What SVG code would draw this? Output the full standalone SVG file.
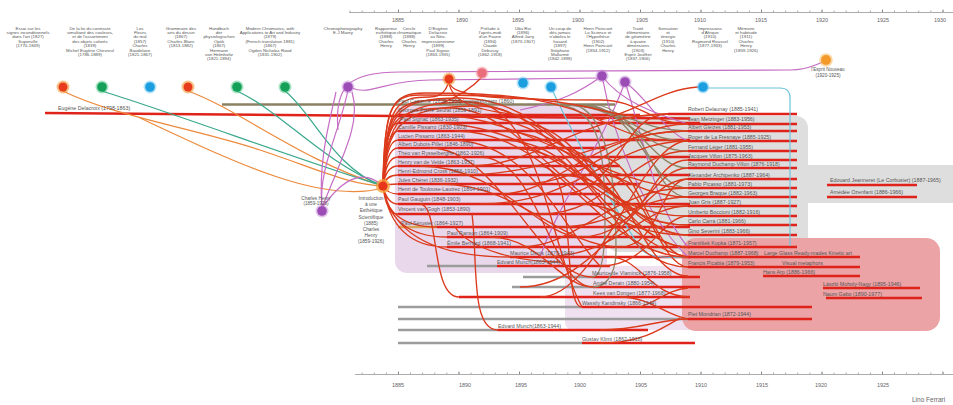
<svg xmlns="http://www.w3.org/2000/svg" width="953" height="405" viewBox="0 0 953 405">
<defs>
<style>
text{font-family:"Liberation Sans",Arial,sans-serif;fill:#555}
.col{font-size:4.4px;text-anchor:middle}
.lbl{font-size:5.3px}
.yr{font-size:5.5px;text-anchor:middle;fill:#666}
.ln{stroke:#e0231a;stroke-width:2.4;fill:none}
.gl{stroke:#9c9c9c;stroke-width:2.4;fill:none}
.br{stroke:#8c8062;stroke-width:2.4;fill:none}
.c{fill:none;stroke:#dc3a1c;stroke-width:1.35}
.o{fill:none;stroke:#ec8a3c;stroke-width:1.2}
.g{fill:none;stroke:#3aa88c;stroke-width:1.2}
.p{fill:none;stroke:#c56cc4;stroke-width:1.2}
.b{fill:none;stroke:#6cc4dc;stroke-width:1.2}
.ol{fill:none;stroke:#8e8466;stroke-width:1.3}
</style>
<pattern id="tick" x="398" y="0" width="12.1" height="405" patternUnits="userSpaceOnUse"><rect x="0" y="0" width="0.7" height="405" fill="#888"/></pattern>
<pattern id="tickM" x="398" y="0" width="60.5" height="405" patternUnits="userSpaceOnUse"><rect x="0" y="0" width="0.8" height="405" fill="#777"/></pattern>
</defs>
<rect width="953" height="405" fill="#fff"/>

<!-- background groupings -->
<g id="zones">
<rect x="395" y="104" width="212" height="169" rx="12" fill="#e9d8ec"/>
<rect x="565" y="266" width="135" height="64" rx="8" fill="#efe1ef"/>
<rect x="607" y="116" width="201" height="136" rx="12" fill="#dedede"/>
<rect x="800" y="165" width="153" height="38" fill="#dedede"/>
<rect x="682" y="238" width="258" height="93" rx="14" fill="#eba3a5"/>
</g>

<!-- time axes -->
<g id="axis-top">
<rect x="349" y="12" width="604" height="0.7" fill="#888"/>
<rect x="349" y="10.5" width="604" height="1.5" fill="url(#tick)"/>
<rect x="349" y="9.5" width="604" height="2.5" fill="url(#tickM)"/>
<text class="yr" x="398" y="22">1885</text><text class="yr" x="462" y="22">1890</text><text class="yr" x="518" y="22">1895</text><text class="yr" x="578" y="22">1900</text><text class="yr" x="642" y="22">1905</text><text class="yr" x="700" y="22">1910</text><text class="yr" x="761" y="22">1915</text><text class="yr" x="822" y="22">1920</text><text class="yr" x="883" y="22">1925</text><text class="yr" x="940" y="22">1930</text>
</g>
<g id="axis-bottom">
<rect x="355" y="374" width="598" height="0.7" fill="#888"/>
<rect x="355" y="372.5" width="598" height="1.5" fill="url(#tick)"/>
<rect x="355" y="371.5" width="598" height="2.5" fill="url(#tickM)"/>
<text class="yr" x="398" y="387">1885</text><text class="yr" x="465" y="387">1890</text><text class="yr" x="521" y="387">1895</text><text class="yr" x="580" y="387">1900</text><text class="yr" x="641" y="387">1905</text><text class="yr" x="701" y="387">1910</text><text class="yr" x="762" y="387">1915</text><text class="yr" x="821" y="387">1920</text><text class="yr" x="883" y="387">1925</text>
<text x="912" y="402" style="font-size:6.5px;fill:#666">Lino Ferrari</text>
</g>

<!-- source works along the top -->
<g id="works">
<text class="col" y="29.5"><tspan x="28">Essai sur les</tspan><tspan x="28" dy="4.4">signes inconditionnels</tspan><tspan x="28" dy="4.4">dans l'art (1827)</tspan><tspan x="28" dy="4.4">Superville</tspan><tspan x="28" dy="4.4">(1770-1849)</tspan></text>
<text class="col" y="29.5"><tspan x="90">De la loi du contraste</tspan><tspan x="90" dy="4.4">simultané des couleurs,</tspan><tspan x="90" dy="4.4">et de l'assortiment</tspan><tspan x="90" dy="4.4">des objets colorés</tspan><tspan x="90" dy="4.4">(1839)</tspan><tspan x="90" dy="4.4">Michel Eugène Chevreul</tspan><tspan x="90" dy="4.4">(1786-1889)</tspan></text>
<text class="col" y="29.5"><tspan x="140">Les</tspan><tspan x="140" dy="4.4">Fleurs</tspan><tspan x="140" dy="4.4">du mal</tspan><tspan x="140" dy="4.4">(1857)</tspan><tspan x="140" dy="4.4">Charles</tspan><tspan x="140" dy="4.4">Baudelaire</tspan><tspan x="140" dy="4.4">(1821-1867)</tspan></text>
<text class="col" y="29.5"><tspan x="181">Grammaire des</tspan><tspan x="181" dy="4.4">arts du dessin</tspan><tspan x="181" dy="4.4">(1867)</tspan><tspan x="181" dy="4.4">Charles Blanc</tspan><tspan x="181" dy="4.4">(1813-1882)</tspan></text>
<text class="col" y="29.5"><tspan x="219">Handbuch</tspan><tspan x="219" dy="4.4">der</tspan><tspan x="219" dy="4.4">physiologischen</tspan><tspan x="219" dy="4.4">Optik</tspan><tspan x="219" dy="4.4">(1867)</tspan><tspan x="219" dy="4.4">Hermann</tspan><tspan x="219" dy="4.4">von Helmholtz</tspan><tspan x="219" dy="4.4">(1821-1894)</tspan></text>
<text class="col" y="29.5"><tspan x="270">Modern Chromatics, with</tspan><tspan x="270" dy="4.4">Applications to Art and Industry</tspan><tspan x="270" dy="4.4">(1879)</tspan><tspan x="270" dy="4.4">(French translation 1881)</tspan><tspan x="270" dy="4.4">(1867)</tspan><tspan x="270" dy="4.4">Ogden Nicholas Rood</tspan><tspan x="270" dy="4.4">(1831-1902)</tspan></text>
<text class="col" y="29.5"><tspan x="343">Chronophotography</tspan><tspan x="343" dy="4.4">E-J Marey</tspan></text>
<text class="col" y="29.5"><tspan x="386">Rapporteur</tspan><tspan x="386" dy="4.4">esthétique</tspan><tspan x="386" dy="4.4">(1888)</tspan><tspan x="386" dy="4.4">Charles</tspan><tspan x="386" dy="4.4">Henry</tspan></text>
<text class="col" y="29.5"><tspan x="409">Cercle</tspan><tspan x="409" dy="4.4">chromatique</tspan><tspan x="409" dy="4.4">(1888)</tspan><tspan x="409" dy="4.4">Charles</tspan><tspan x="409" dy="4.4">Henry</tspan></text>
<text class="col" y="29.5"><tspan x="438">D'Eugène</tspan><tspan x="438" dy="4.4">Delacroix</tspan><tspan x="438" dy="4.4">au Néo-</tspan><tspan x="438" dy="4.4">impressionnisme</tspan><tspan x="438" dy="4.4">(1899)</tspan><tspan x="438" dy="4.4">Paul Signac</tspan><tspan x="438" dy="4.4">(1863-1935)</tspan></text>
<text class="col" y="29.5"><tspan x="490">Prélude à</tspan><tspan x="490" dy="4.4">l'après-midi</tspan><tspan x="490" dy="4.4">d'un Faune</tspan><tspan x="490" dy="4.4">(1894)</tspan><tspan x="490" dy="4.4">Claude</tspan><tspan x="490" dy="4.4">Debussy</tspan><tspan x="490" dy="4.4">(1862-1918)</tspan></text>
<text class="col" y="29.5"><tspan x="523">Ubu Roi</tspan><tspan x="523" dy="4.4">(1896)</tspan><tspan x="523" dy="4.4">Alfred Jarry</tspan><tspan x="523" dy="4.4">(1873-1907)</tspan></text>
<text class="col" y="29.5"><tspan x="560">Un coup de</tspan><tspan x="560" dy="4.4">dés jamais</tspan><tspan x="560" dy="4.4">n'abolira le</tspan><tspan x="560" dy="4.4">hasard</tspan><tspan x="560" dy="4.4">(1897)</tspan><tspan x="560" dy="4.4">Stéphane</tspan><tspan x="560" dy="4.4">Mallarmé</tspan><tspan x="560" dy="4.4">(1842-1898)</tspan></text>
<text class="col" y="29.5"><tspan x="598">Henri Poincaré</tspan><tspan x="598" dy="4.4">La Science et</tspan><tspan x="598" dy="4.4">l'Hypothèse</tspan><tspan x="598" dy="4.4">(1902)</tspan><tspan x="598" dy="4.4">Henri Poincaré</tspan><tspan x="598" dy="4.4">(1854-1912)</tspan></text>
<text class="col" y="29.5"><tspan x="638">Traité</tspan><tspan x="638" dy="4.4">élémentaire</tspan><tspan x="638" dy="4.4">de géométrie</tspan><tspan x="638" dy="4.4">à quatre</tspan><tspan x="638" dy="4.4">dimensions</tspan><tspan x="638" dy="4.4">(1903)</tspan><tspan x="638" dy="4.4">Esprit Jouffret</tspan><tspan x="638" dy="4.4">(1837-1906)</tspan></text>
<text class="col" y="29.5"><tspan x="668">Sensation</tspan><tspan x="668" dy="4.4">et</tspan><tspan x="668" dy="4.4">énergie</tspan><tspan x="668" dy="4.4">(1910)</tspan><tspan x="668" dy="4.4">Charles</tspan><tspan x="668" dy="4.4">Henry</tspan></text>
<text class="col" y="29.5"><tspan x="710">Impressions</tspan><tspan x="710" dy="4.4">d'Afrique</tspan><tspan x="710" dy="4.4">(1910)</tspan><tspan x="710" dy="4.4">Raymond Roussel</tspan><tspan x="710" dy="4.4">(1877-1933)</tspan></text>
<text class="col" y="29.5"><tspan x="746">Mémoire</tspan><tspan x="746" dy="4.4">et habitude</tspan><tspan x="746" dy="4.4">(1911)</tspan><tspan x="746" dy="4.4">Charles</tspan><tspan x="746" dy="4.4">Henry</tspan><tspan x="746" dy="4.4">(1859-1926)</tspan></text>
</g>

<!-- lifelines -->
<g id="lifelines">
<path class="br" d="M222,104.5H615"/>
<path class="ln" d="M45,113L690,118.5"/>
<path class="ln" d="M398,123H700M398,131H600M398,140H690M398,148H605M398,157H690M398,166H620M398,175H690M398,184H640M398,194H600M398,204H690M398,214H600M437,227H690M447,237H660M447,247H690M510,257H690M497,266H610"/>
<path class="ln" d="M398,115H640"/>
<path stroke="#d8a455" stroke-width="2.4" d="M398,227H437"/>
<path class="gl" d="M427,266H497M523,277H592M512,287H593M398,307H582M398,319H688M398,330H498M398,343H582"/>
<path class="ln" d="M592,277H700M593,287H700M459,297H690M582,307H812M688,319H812M498,330H648M582,343H695"/>
<path class="ln" d="M668,114H797M688,124H797M688,131H797M688,141H797M688,151H797M688,160H797M688,168H797M688,179H797M688,188H797M688,197H797M688,206H797M688,216H797M688,225H797M688,235H797M688,247H797M688,257H860M688,267H860M763,276H860M823,288H920M826,298H922"/>
<path class="ln" d="M827,185H917M827,197H917"/>
</g>

<!-- connectors -->
<g id="connectors">
<path class="o" d="M63,91C110,115 200,130 260,150S350,185 383,186"/>
<path class="o" d="M188,91C240,110 300,160 383,186"/>
<path class="o" d="M140,118C230,160 320,205 383,188"/>
<path class="g" d="M102,91C170,112 300,160 383,186"/>
<path class="g" d="M237,91C282,112 320,160 383,186"/>
<path class="g" d="M285,91C312,112 335,170 383,186"/>
<path class="p" d="M348,90C340,130 318,170 322,207"/>
<path class="p" d="M322,208C318,160 330,120 336,92"/>
<path class="p" d="M322,208C340,160 362,125 352,92"/>
<path class="p" d="M322,208C345,175 365,170 383,186"/>
<path class="p" d="M338,130C334,85 350,72 400,72L790,70C810,70 818,63 826,61"/>
<path class="p" d="M352,88C370,96 385,80 430,80L600,78"/>
<path class="p" d="M602,76C620,100 650,112 688,124"/>
<path class="p" d="M602,76C612,130 640,210 688,257"/>
<path class="p" d="M625,82C650,100 662,130 688,141"/>
<path class="p" d="M625,82C640,125 655,210 688,247"/>
<path class="p" d="M602,76C580,92 560,102 520,110"/>
<path class="p" d="M625,82C600,150 560,200 540,257"/>
<path class="b" d="M707,88H780Q790,88 790,98V246"/>
<path class="b" d="M551,87C570,130 610,200 640,248C650,260 670,257 688,257"/>
<path class="ol" d="M560,105C620,105 640,131 688,131"/>
<path class="ol" d="M570,105C630,108 642,151 688,151"/>
<path class="ol" d="M580,105C640,110 650,168 688,168"/>
<path class="ol" d="M590,105C640,115 650,188 688,188"/>
<path class="ol" d="M600,105C650,120 652,197 688,197"/>
<path class="ol" d="M585,105C630,112 640,141 688,141"/>
<path class="ol" d="M560,105C600,110 605,150 605,220C605,262 600,277 592,277"/>
<path class="ol" d="M575,105C612,115 616,200 616,250C616,280 602,287 593,287"/>
<path class="c" d="M383,186Q386,115 398,115M383,186Q386,123 398,123M383,186Q386,131 398,131M383,186Q386,140 398,140M383,186Q386,148 398,148M383,186Q386,157 398,157M383,186Q386,166 398,166M383,186Q386,175 398,175M383,186Q388,184 398,184M383,186Q388,194 398,194M383,186Q387,204 398,204M383,186Q386,214 398,214M383,186Q387,227 437,227M383,186Q390,237 447,237M383,186Q392,247 447,247M383,186Q395,257 510,257"/>
<path class="c" d="M383,186C384,110 390,95 420,95C470,95 540,95 600,110C640,120 650,114 668,114"/>
<path class="c" d="M383,186C385,100 400,97 430,97C445,97 447,86 449,82"/>
<path class="c" d="M383,186C386,110 395,100 440,100C520,100 560,140 610,190C640,220 660,225 688,225"/>
<path class="c" d="M383,186C385,120 392,108 450,108C500,108 540,160 590,200C620,225 650,235 688,235"/>
<path class="c" d="M383,186C384,105 392,93 425,93C520,93 560,100 610,125C640,140 660,141 688,141"/>
<path class="c" d="M383,186C386,112 396,98 460,98C540,98 580,170 620,200C645,210 665,206 688,206"/>
<path class="c" d="M383,186C387,118 400,102 470,102C540,102 550,250 582,307"/>
<path class="c" d="M383,186C386,125 400,106 480,106C560,106 600,240 688,257"/>
<path class="c" d="M449,83C452,100 470,110 520,115"/>
<path class="c" d="M449,83C455,95 480,100 600,100C640,100 650,124 688,124"/>
<path class="c" d="M482,77C470,90 455,98 440,104"/>
<path class="c" d="M600,120C640,110 660,90 698,87"/>
<path class="c" d="M440,115C520,115 610,188 688,188"/>
<path class="c" d="M470,115C550,115 610,197 688,197"/>
<path class="c" d="M520,123C590,123 620,247 688,247"/>
<path class="c" d="M455,131C560,131 600,257 688,257"/>
<path class="c" d="M500,140C600,140 610,267 688,267"/>
<path class="c" d="M430,148C500,148 540,277 592,277"/>
<path class="c" d="M480,157C540,157 550,287 593,287"/>
<path class="c" d="M540,166C580,166 560,307 582,307"/>
<path class="c" d="M460,175C560,175 610,131 688,131"/>
<path class="c" d="M520,184C600,184 620,124 688,124"/>
<path class="c" d="M560,194C620,194 620,114 668,114"/>
<path class="c" d="M480,204C580,204 610,141 688,141"/>
<path class="c" d="M540,214C610,214 630,151 688,151"/>
<path class="c" d="M600,227C650,227 650,160 688,160"/>
<path class="c" d="M580,237C640,237 650,168 688,168"/>
<path class="c" d="M620,247C660,247 660,179 688,179"/>
<path class="c" d="M540,257C620,257 640,206 688,206"/>
<path class="c" d="M600,266C650,266 660,216 688,216"/>
<path class="c" d="M430,123C560,123 600,225 688,225"/>
<path class="c" d="M500,131C590,131 620,235 688,235"/>
<path class="c" d="M560,148C620,148 640,276 688,276"/>
<path class="c" d="M420,204C440,204 430,297 459,297"/>
<path class="c" d="M472,214C478,260 470,330 498,330"/>
<path class="c" d="M455,227C470,250 520,262 560,262"/>
<path class="c" d="M600,343C640,343 660,330 680,318"/>
<path class="c" d="M600,330C640,330 660,319 688,319"/>
<path class="c" d="M620,297C650,297 665,315 688,319"/>
<path class="c" d="M640,307C660,300 668,290 688,288"/>
<path class="c" d="M540,297C600,297 640,140 688,141"/>
<path class="c" d="M520,287C600,287 640,179 688,179"/>
<path class="c" d="M600,157C640,157 650,257 688,257"/>
<path class="c" d="M610,176C640,176 660,267 688,267"/>
<path class="c" d="M450,140C530,140 560,225 600,266"/>
<path class="c" d="M510,148C580,148 600,216 688,216"/>
<path class="c" d="M420,166C500,166 540,237 580,237"/>
<path class="c" d="M440,184C520,184 560,247 620,247"/>
<path class="c" d="M500,194C560,194 590,131 688,131"/>
<path class="c" d="M470,166C540,166 580,114 668,114"/>
<path class="c" d="M560,175C620,175 640,235 688,235"/>
<path class="c" d="M580,204C630,204 650,247 688,247"/>
<path class="c" d="M520,247C580,247 610,188 688,188"/>
<path class="c" d="M560,227C610,227 640,197 688,197"/>
<path class="c" d="M610,257C640,257 650,297 690,297"/>
<path class="c" d="M490,237C540,237 560,287 593,287"/>
</g>

<!-- source-work nodes -->
<g id="n-superville"><circle cx="63" cy="87" r="6.5" fill="#f29a3a" opacity="0.6"/><circle cx="63" cy="87" r="4.5" fill="#e83a1c"/></g>
<g id="n-chevreul"><circle cx="102" cy="87" r="6.5" fill="#3fc07a" opacity="0.45"/><circle cx="102" cy="87" r="4.8" fill="#14a058"/></g>
<g id="n-baudelaire"><circle cx="150" cy="87" r="6.5" fill="#5cc0f0" opacity="0.45"/><circle cx="150" cy="87" r="4.8" fill="#1a9ee0"/></g>
<g id="n-blanc"><circle cx="188" cy="87" r="6.5" fill="#f29a3a" opacity="0.6"/><circle cx="188" cy="87" r="4.5" fill="#e83a1c"/></g>
<g id="n-helmholtz"><circle cx="237" cy="87" r="6.5" fill="#3fc07a" opacity="0.45"/><circle cx="237" cy="87" r="4.8" fill="#14a058"/></g>
<g id="n-rood"><circle cx="285" cy="87" r="6.5" fill="#3fc07a" opacity="0.45"/><circle cx="285" cy="87" r="4.8" fill="#14a058"/></g>
<g id="n-marey"><circle cx="348" cy="87" r="6.5" fill="#c58ad8" opacity="0.5"/><circle cx="348" cy="87" r="4.8" fill="#9b4db5"/></g>
<g id="n-rapporteur"><circle cx="449" cy="79" r="6.5" fill="#f29a3a" opacity="0.6"/><circle cx="449" cy="79" r="4.5" fill="#e83a1c"/></g>
<g id="n-debussy"><circle cx="482" cy="73" r="6.5" fill="#f4a0a8" opacity="0.6"/><circle cx="482" cy="73" r="4.8" fill="#ea6e7c"/></g>
<g id="n-jarry"><circle cx="523" cy="83" r="6.5" fill="#5cc0f0" opacity="0.45"/><circle cx="523" cy="83" r="4.8" fill="#1a9ee0"/></g>
<g id="n-mallarme"><circle cx="551" cy="87" r="6.5" fill="#5cc0f0" opacity="0.45"/><circle cx="551" cy="87" r="4.8" fill="#1a9ee0"/></g>
<g id="n-poincare"><circle cx="602" cy="76" r="6.5" fill="#c58ad8" opacity="0.5"/><circle cx="602" cy="76" r="4.8" fill="#9b4db5"/></g>
<g id="n-jouffret"><circle cx="625" cy="82" r="6.5" fill="#c58ad8" opacity="0.5"/><circle cx="625" cy="82" r="4.8" fill="#9b4db5"/></g>
<g id="n-roussel"><circle cx="703" cy="87" r="6.5" fill="#5cc0f0" opacity="0.45"/><circle cx="703" cy="87" r="4.8" fill="#1a9ee0"/></g>
<g id="n-esprit-nouveau"><circle cx="826" cy="60" r="6.8" fill="#f8c070" opacity="0.6"/><circle cx="826" cy="60" r="5" fill="#f39a2a"/>
<text x="828" y="71" style="font-size:4.6px;text-anchor:middle">l'Esprit Nouveau</text><text x="828" y="76.5" style="font-size:4.6px;text-anchor:middle">(1920-1925)</text></g>
<g id="n-charles-henry"><circle cx="322" cy="211" r="6.5" fill="#c58ad8" opacity="0.5"/><circle cx="322" cy="211" r="4.8" fill="#9b4db5"/>
<text x="316" y="199.5" style="font-size:4.6px;text-anchor:middle">Charles Henry</text><text x="316" y="204.5" style="font-size:4.6px;text-anchor:middle">(1859-1926)</text></g>
<g id="n-esthetique"><circle cx="383" cy="186" r="7" fill="#f6a238" opacity="0.8"/><circle cx="383" cy="186" r="4.6" fill="#e8361a"/>
<text style="font-size:4.8px;text-anchor:middle" y="200"><tspan x="371">Introduction</tspan><tspan x="371" dy="6.2">à une</tspan><tspan x="371" dy="6.2">Esthétique</tspan><tspan x="371" dy="6.2">Scientifique</tspan><tspan x="371" dy="6.2">(1885)</tspan><tspan x="371" dy="6.2">Charles</tspan><tspan x="371" dy="6.2">Henry</tspan><tspan x="371" dy="6.2">(1859-1926)</tspan></text></g>
<g id="n-delacroix"><text class="lbl" x="58" y="110">Eugène Delacroix (1798-1863)</text></g>

<!-- artists -->
<g id="artists-left">
<text class="lbl" x="398" y="103">Paul Cezanne (1839-1906) Impressionism (1860)</text>
<text class="lbl" x="398" y="112">Georges-Pierre Seurat (1859-1891)</text>
<text class="lbl" x="400" y="120.5">Paul Signac (1863-1935)</text>
<text class="lbl" x="398" y="129">Camille Pissarro (1830-1903)</text>
<text class="lbl" x="398" y="137.5">Lucien Pissarro (1863-1944)</text>
<text class="lbl" x="398" y="146">Albert Dubois-Pillet (1846-1890)</text>
<text class="lbl" x="398" y="154.5">Théo van Rysselberghe (1862-1926)</text>
<text class="lbl" x="398" y="163.5">Henry van de Velde (1863-1957)</text>
<text class="lbl" x="398" y="172.5">Henri-Edmond Cross (1856-1910)</text>
<text class="lbl" x="398" y="181.5">Jules Chéret (1836-1932)</text>
<text class="lbl" x="398" y="191">Henri de Toulouse-Lautrec (1864-1901)</text>
<text class="lbl" x="398" y="201">Paul Gauguin (1848-1903)</text>
<text class="lbl" x="398" y="211">Vincent van Gogh (1853-1890)</text>
<text class="lbl" x="401" y="224.5">Paul Sérusier (1864-1927)</text>
<text class="lbl" x="447" y="234.5">Paul Ranson (1864-1909)</text>
<text class="lbl" x="447" y="244.5">Émile Bernard (1868-1941)</text>
<text class="lbl" x="510" y="254.5">Maurice Denis (1870-1943)</text>
<text class="lbl" x="497" y="263.5">Edvard Munch(1863-1944)</text>
<text class="lbl" x="592" y="274.5">Maurice de Vlaminck (1876-1958)</text>
<text class="lbl" x="593" y="284.5">André Derain (1880-1954)</text>
<text class="lbl" x="593" y="294.5">Kees van Dongen (1877-1968)</text>
<text class="lbl" x="582" y="304.5">Wassily Kandinsky (1866-1944)</text>
<text class="lbl" x="498" y="327.5">Edvard Munch(1863-1944)</text>
<text class="lbl" x="582" y="340.5">Gustav Klimt (1862-1918)</text>
</g>
<g id="artists-right">
<text class="lbl" x="688" y="111">Robert Delaunay (1885-1941)</text>
<text class="lbl" x="688" y="121">Jean Metzinger (1883-1956)</text>
<text class="lbl" x="688" y="128.5">Albert Gleizes (1881-1953)</text>
<text class="lbl" x="688" y="138.5">Roger de La Fresnaye (1885-1925)</text>
<text class="lbl" x="688" y="148.5">Fernand Léger (1881-1955)</text>
<text class="lbl" x="688" y="157.5">Jacques Villon (1875-1963)</text>
<text class="lbl" x="688" y="165.5">Raymond Duchamp-Villon (1876-1918)</text>
<text class="lbl" x="688" y="176.5">Alexander Archipenko (1887-1964)</text>
<text class="lbl" x="688" y="185.5">Pablo Picasso (1881-1973)</text>
<text class="lbl" x="688" y="194.5">Georges Braque (1882-1963)</text>
<text class="lbl" x="688" y="203.5">Juan Gris (1887-1927)</text>
<text class="lbl" x="688" y="213.5">Umberto Boccioni (1882-1916)</text>
<text class="lbl" x="688" y="222.5">Carlo Carrà (1881-1966)</text>
<text class="lbl" x="688" y="232.5">Gino Severini (1883-1966)</text>
<text class="lbl" x="688" y="244.5">František Kupka (1871-1957)</text>
<text class="lbl" x="688" y="254.5">Marcel Duchamp (1887-1968)</text>
<text class="lbl" x="764" y="254.5">Large Glass Ready-mades Kinetic art</text>
<text class="lbl" x="688" y="264.5">Francis Picabia (1879-1953)</text>
<text class="lbl" x="782" y="264.5">Visual metaphors</text>
<text class="lbl" x="763" y="273.5">Hans Arp (1886-1966)</text>
<text class="lbl" x="823" y="285.5">László Moholy-Nagy (1895-1946)</text>
<text class="lbl" x="823" y="295.5">Naum Gabo (1890-1977)</text>
<text class="lbl" x="688" y="315.5">Piet Mondrian (1872-1944)</text>
<text class="lbl" x="830" y="182">Edouard Jeanneret (Le Corbusier) (1887-1965)</text>
<text class="lbl" x="830" y="193.5">Amédée Ozenfant (1886-1966)</text>
</g>
</svg>
